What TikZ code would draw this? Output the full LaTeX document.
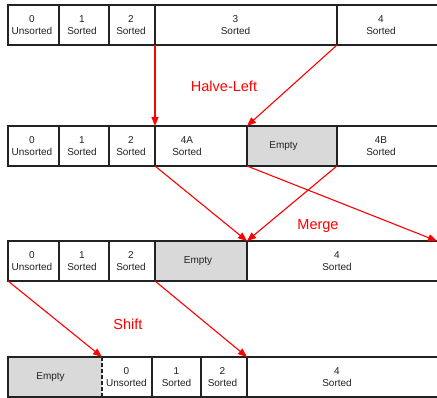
\documentclass[tikz,border=0pt]{standalone}
\usepackage{fontspec}
\setmainfont{Liberation Sans}
\usetikzlibrary{arrows.meta}
\definecolor{emptygray}{HTML}{D9D9D9}
\definecolor{linecol}{HTML}{222222}
\definecolor{arrred}{HTML}{FF0000}
% name, x1, x2, ytop, fill, text, text x-offset, draw
\newcommand\cellbox[8]{%
  \node[cellb, fill=#5, draw=#8, minimum width={(#3-#2)*1pt},
        label={[celltxt, xshift=#7pt]center:{#6}}] (#1) at ({(#2+#3)/2},{#4+20}) {};}
\begin{document}
\begin{tikzpicture}[x=1pt,y=-1pt,
  cellb/.style={inner sep=0pt, outer sep=0pt, minimum height=40pt, line width=1.2pt},
  celltxt/.style={inner sep=0pt, align=center, font=\fontsize{10}{12.5}\selectfont, text=linecol},
  frame/.style={line width=1.2pt, draw=linecol},
  redlbl/.style={text=arrred, font=\fontsize{14.5}{16}\selectfont, inner sep=0pt},
  arr/.style={draw=arrred, line width=1.1pt, -{Triangle[length=9pt,width=7pt]}},
]
\useasboundingbox (0,0) rectangle (437,398);
\clip (0,0) rectangle (437,398);
% Row 1
\cellbox{a1}{8}{59}{5}{white}{0\\Unsorted}{-1.5}{linecol}
\cellbox{a2}{59}{109}{5}{white}{1\\Sorted}{-2}{linecol}
\cellbox{a3}{109}{155}{5}{white}{2\\Sorted}{-1}{linecol}
\cellbox{a4}{155}{337}{5}{white}{3\\Sorted}{-10.5}{linecol}
\cellbox{a5}{337}{441}{5}{white}{4\\Sorted}{-8}{linecol}
% Row 2
\cellbox{b1}{8}{59}{126}{white}{0\\Unsorted}{-1.5}{linecol}
\cellbox{b2}{59}{109}{126}{white}{1\\Sorted}{-2}{linecol}
\cellbox{b3}{109}{155}{126}{white}{2\\Sorted}{-1}{linecol}
\cellbox{b4}{155}{247}{126}{white}{4A\\Sorted}{-14}{linecol}
\cellbox{b5}{247}{337}{126}{emptygray}{Empty}{-8.5}{linecol}
\cellbox{b6}{337}{441}{126}{white}{4B\\Sorted}{-8}{linecol}
% Row 3
\cellbox{c1}{8}{59}{241}{white}{0\\Unsorted}{-1.5}{linecol}
\cellbox{c2}{59}{109}{241}{white}{1\\Sorted}{-2}{linecol}
\cellbox{c3}{109}{155}{241}{white}{2\\Sorted}{-1}{linecol}
\cellbox{c4}{155}{247}{241}{emptygray}{Empty}{-3}{linecol}
\cellbox{c5}{247}{441}{241}{white}{4\\Sorted}{-7}{linecol}
% Row 4
\cellbox{d1}{8}{102}{357}{emptygray}{Empty}{-4.5}{none}
\cellbox{d2}{102}{152}{357}{white}{0\\Unsorted}{-0.5}{none}
\cellbox{d3}{152}{201}{357}{white}{1\\Sorted}{0}{none}
\cellbox{d4}{201}{247}{357}{white}{2\\Sorted}{-1.5}{none}
\cellbox{d5}{247}{441}{357}{white}{4\\Sorted}{-7}{none}
\draw[frame] (d5.north east) -- (d1.north west) -- (d1.south west) -- (d5.south east);
\draw[frame, dash pattern=on 4pt off 2pt] (d1.north east) -- (d1.south east);
\draw[frame] (d2.north east) -- (d2.south east);
\draw[frame] (d3.north east) -- (d3.south east);
\draw[frame] (d4.north east) -- (d4.south east);
% Labels
\node[redlbl] (hl) at (224,86) {Halve-Left};
\node[redlbl] (mg) at (318,226) {Merge};
\node[redlbl] (sh) at (128,324) {Shift};
% Arrows
\coordinate (m5) at (437,241);
\draw[arr] (a3.south east) -- (b3.north east);
\draw[arr] (a4.south east) -- (b4.north east);
\draw[arr] (b3.south east) -- (c4.north east);
\draw[arr] (b5.south east) -- (c4.north east);
\draw[arr] (b4.south east) -- (m5);
\draw[arr] (c1.south west) -- (d1.north east);
\draw[arr] (c3.south east) -- (d5.north west);
\end{tikzpicture}
\end{document}
